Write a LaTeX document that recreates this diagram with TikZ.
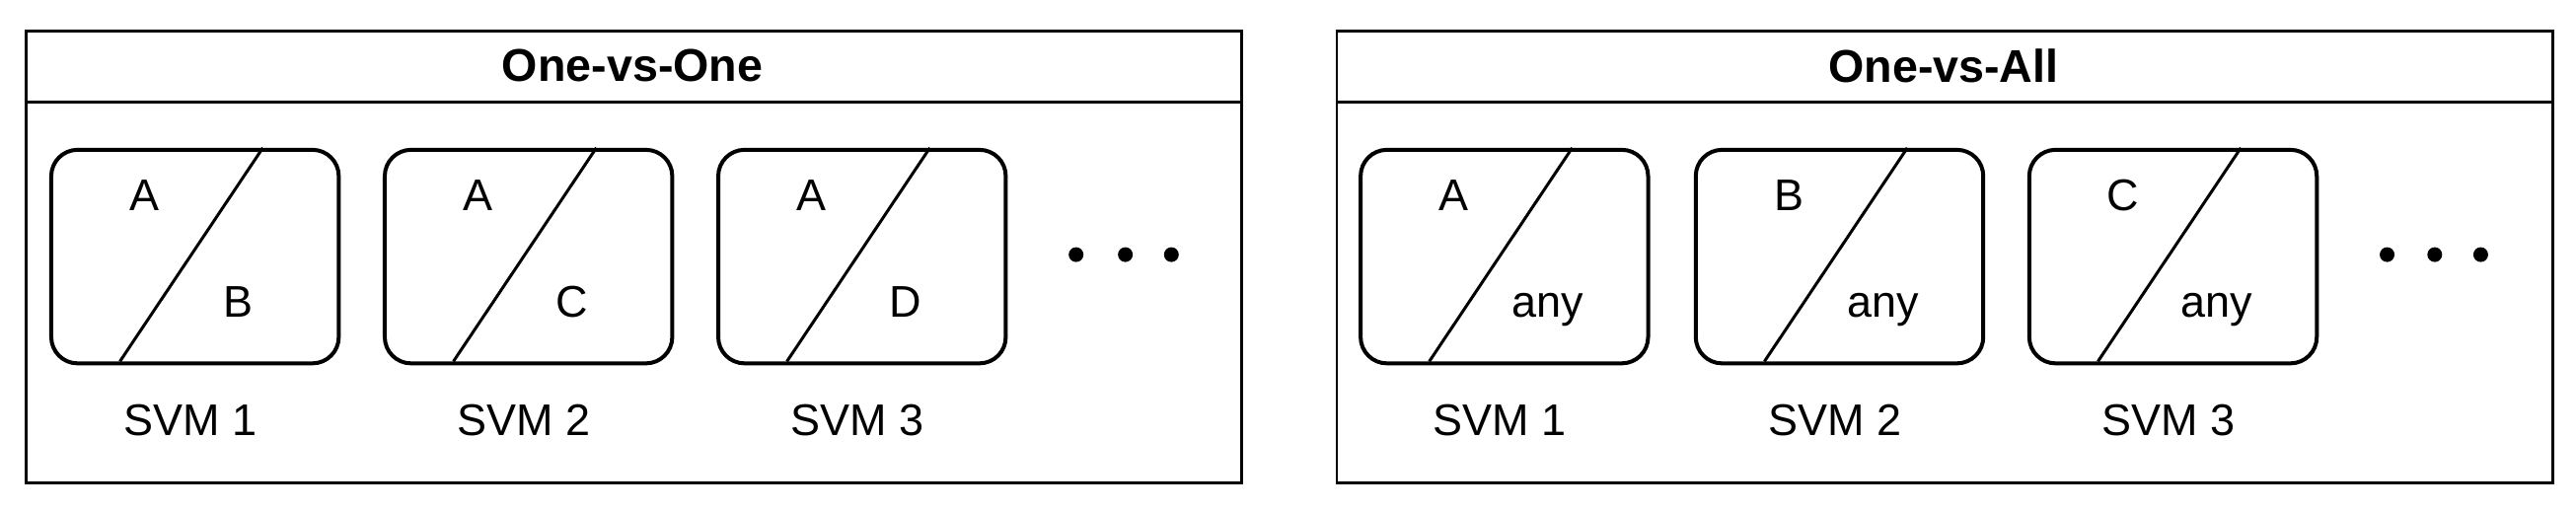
\documentclass[tikz,border=0pt]{standalone}
\usepackage{fontspec}
\setmainfont{Liberation Sans}
\begin{document}
\begin{tikzpicture}[x=1pt,y=-1pt,line width=2.4pt,
  txt/.style={font=\fontsize{27}{32}\selectfont,inner sep=0pt,anchor=base},
  ttl/.style={font=\fontsize{28}{32}\selectfont\bfseries,inner sep=0pt},
  svm/.style={draw,rounded corners=16pt,minimum width=175pt,minimum height=130pt,anchor=north west,inner sep=0pt},
  dot/.style={fill,circle,inner sep=0pt,minimum size=9pt}]
\useasboundingbox (0,0) rectangle (1568,310.5);
\node[draw,line width=1.6pt,anchor=north west,minimum width=740pt,minimum height=275pt,inner sep=0pt] (L) at (15,18) {};
\node[draw,line width=1.6pt,anchor=north west,minimum width=740pt,minimum height=275pt,inner sep=0pt] (R) at (813,18) {};
\draw[line width=1.6pt] (15,62) -- (755,62);
\draw[line width=1.6pt] (813,62) -- (1553,62);
\node[ttl] (tl) at (385,40) {One-vs-One};
\node[ttl] (tr) at (1183,40) {One-vs-All};
\foreach \x/\a/\b/\n [count=\i] in {30/A/B/1,233/A/C/2,436/A/D/3,827/A/any/1,1031/B/any/2,1234/C/any/3}{
  \node[svm] (b\i) at (\x,90) {};
  \draw[line width=1.8pt] (\x+43,220) -- (\x+130,90);
  \node[txt] (a\i) at (\x+58,128) {\a};
  \node[txt] (c\i) at (\x+115,193) {\b};
  \node[txt] (s\i) at (\x+86,265) {SVM \n};
}
\foreach \x [count=\j] in {655,685,713,1453,1482,1510}{\node[dot] (d\j) at (\x,155) {};}
\end{tikzpicture}
\end{document}
